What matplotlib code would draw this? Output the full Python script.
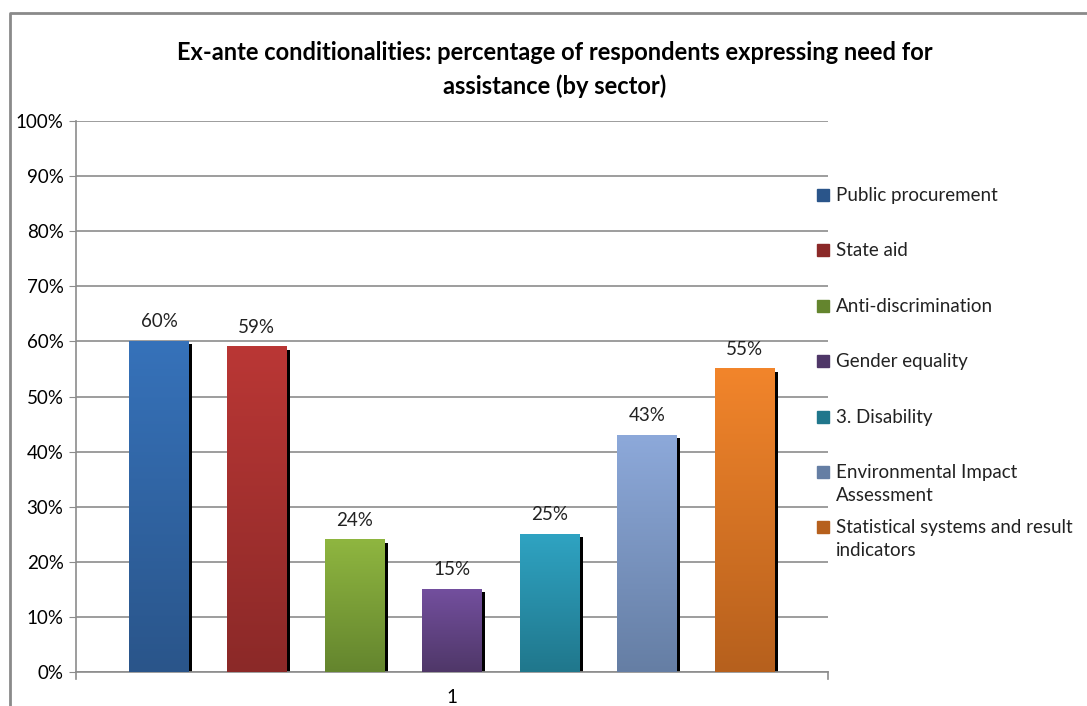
import matplotlib.pyplot as plt
import numpy as np
from matplotlib.colors import LinearSegmentedColormap
from matplotlib.patches import Rectangle

plt.rcParams['font.family'] = ['Lato', 'DejaVu Sans']

sectors = ['Public procurement', 'State aid', 'Anti-discrimination', 'Gender equality',
           '3. Disability', 'Environmental Impact\nAssessment',
           'Statistical systems and result\nindicators']
values = [60, 59, 24, 15, 25, 43, 55]
# top / bottom colours of each bar gradient
top_colors = ['#3672BA', '#BA3735', '#8FB640', '#734F9E', '#2FA3C2', '#8DA9DA', '#F2852B']
bottom_colors = ['#2A558A', '#8B2928', '#64852E', '#4F3768', '#20778C', '#657EA4', '#B6601D']
yticks = np.arange(0, 101, 10)

W, H = 1087, 706
fig = plt.figure(figsize=(W / 100, H / 100), dpi=100)
ax = fig.add_axes([76 / W, (H - 672) / H, 752 / W, 551 / H])

x = np.arange(len(values))
width = 0.605
grad = np.linspace(1, 0, 256).reshape(-1, 1)

for xi, v, ct, cb in zip(x, values, top_colors, bottom_colors):
    # shadow behind the bar
    ax.bar(xi + 0.041, v - 0.55, width, color='black', zorder=2)
    cmap = LinearSegmentedColormap.from_list('g', [cb, ct])
    ax.imshow(grad, cmap=cmap, aspect='auto', zorder=3,
              extent=[xi - width / 2, xi + width / 2, 0, v])
    ax.text(xi, v + 2.0, f'{v}%', ha='center', va='bottom', fontsize=13.5, color='#222222')

ax.set_xlim(-0.85, len(values) - 1 + 0.855)
ax.set_ylim(0, 100)
ax.set_yticks(yticks)
ax.set_yticklabels([f'{t}%' for t in yticks], fontsize=13.5)
ax.set_xticks([])
ax.grid(axis='y', color='#8c8c8c', linewidth=1.2, zorder=0)
ax.set_axisbelow(True)
for s in ['top', 'right']:
    ax.spines[s].set_visible(False)
for s in ['left', 'bottom']:
    ax.spines[s].set_color('#8c8c8c')
    ax.spines[s].set_linewidth(1.2)
ax.tick_params(axis='y', length=5, color='#8c8c8c', pad=4)

# category label and small ticks on the x axis
ax.text(0.5, -0.03, '1', transform=ax.transAxes, ha='center', va='top', fontsize=13.5)
for xe in [0, 1]:
    ax.plot([xe, xe], [0, -0.012], transform=ax.transAxes, color='#8c8c8c',
            lw=1.2, clip_on=False)

fig.text(555 / W, 1 - 52 / H,
         'Ex-ante conditionalities: percentage of respondents expressing need for',
         ha='center', va='center', fontsize=17, fontweight='bold')
fig.text(555 / W, 1 - 86 / H, 'assistance (by sector)',
         ha='center', va='center', fontsize=17, fontweight='bold')

# legend entries on the right
for i, (lab, ct, cb) in enumerate(zip(sectors, top_colors, bottom_colors)):
    yc = 195 + i * 55.4
    fig.patches.append(Rectangle((817 / W, 1 - (yc + 6) / H), 12 / W, 12 / H,
                                 transform=fig.transFigure, color=cb, zorder=5))
    fig.text(836 / W, 1 - (yc - 8) / H, lab, ha='left', va='top', fontsize=13.5,
             linespacing=1.4, color='#222222')

# outer chart frame
fig.add_artist(plt.Line2D([10 / W, 10 / W, 1], [0, 1 - 13 / H, 1 - 13 / H],
                          transform=fig.transFigure, color='#8a8a8a', lw=2))

plt.savefig('out.png', dpi=100)
